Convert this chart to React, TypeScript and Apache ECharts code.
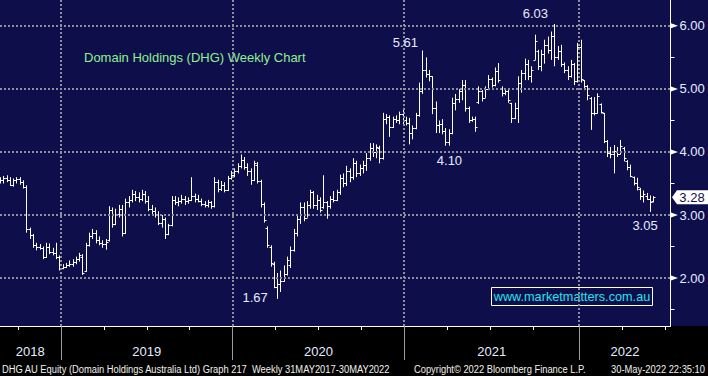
import React, { useEffect, useRef } from 'react';
import * as echarts from 'echarts';

// Weekly bars, Aug-2018 .. end May-2022: [open, high, low, close]
const weeklyBars: number[][] = [
  [3.55, 3.60, 3.50, 3.56], [3.56, 3.62, 3.50, 3.58], [3.58, 3.63, 3.52, 3.56], [3.56, 3.60, 3.46, 3.48],
  [3.48, 3.58, 3.45, 3.55], [3.55, 3.60, 3.50, 3.57], [3.57, 3.60, 3.48, 3.52], [3.52, 3.55, 3.42, 3.45],
  [3.45, 3.47, 2.72, 2.78], [2.78, 2.80, 2.62, 2.68], [2.68, 2.70, 2.48, 2.52], [2.52, 2.56, 2.44, 2.50],
  [2.50, 2.54, 2.45, 2.48], [2.48, 2.50, 2.30, 2.33], [2.33, 2.56, 2.32, 2.50], [2.50, 2.55, 2.38, 2.42],
  [2.42, 2.48, 2.36, 2.40], [2.40, 2.56, 2.30, 2.34], [2.34, 2.36, 2.12, 2.16], [2.16, 2.22, 2.14, 2.18],
  [2.18, 2.24, 2.16, 2.20], [2.20, 2.28, 2.18, 2.22], [2.22, 2.30, 2.18, 2.26], [2.26, 2.34, 2.22, 2.30],
  [2.30, 2.40, 2.26, 2.36], [2.34, 2.38, 2.05, 2.08], [2.12, 2.56, 2.10, 2.52], [2.52, 2.72, 2.50, 2.66],
  [2.66, 2.78, 2.62, 2.72], [2.72, 2.76, 2.55, 2.60], [2.60, 2.66, 2.52, 2.56], [2.56, 2.60, 2.48, 2.54],
  [2.54, 2.62, 2.45, 2.58], [2.60, 3.14, 2.58, 3.08], [3.08, 3.12, 2.80, 2.86], [2.86, 3.10, 2.84, 3.02],
  [3.02, 3.16, 2.96, 3.10], [3.10, 3.16, 2.66, 2.72], [2.72, 3.26, 2.70, 3.20], [3.20, 3.30, 3.12, 3.24],
  [3.24, 3.40, 3.20, 3.34], [3.34, 3.38, 3.22, 3.28], [3.28, 3.36, 3.20, 3.26], [3.26, 3.40, 3.22, 3.34],
  [3.34, 3.38, 3.18, 3.22], [3.22, 3.30, 3.06, 3.10], [3.10, 3.16, 3.00, 3.06], [3.06, 3.12, 2.96, 3.02],
  [3.02, 3.06, 2.84, 2.88], [2.88, 3.00, 2.80, 2.94], [2.94, 2.96, 2.62, 2.70], [2.70, 2.86, 2.68, 2.84],
  [2.84, 3.30, 2.82, 3.24], [3.24, 3.30, 3.16, 3.20], [3.20, 3.28, 3.14, 3.22], [3.22, 3.32, 3.18, 3.26],
  [3.26, 3.30, 3.16, 3.22], [3.22, 3.28, 3.18, 3.24], [3.24, 3.60, 3.22, 3.30], [3.30, 3.34, 3.20, 3.26],
  [3.26, 3.32, 3.20, 3.22], [3.22, 3.26, 3.14, 3.18], [3.18, 3.22, 3.12, 3.16], [3.16, 3.24, 3.12, 3.20],
  [3.20, 3.22, 3.10, 3.14], [3.14, 3.60, 3.12, 3.52], [3.52, 3.56, 3.36, 3.42], [3.42, 3.54, 3.38, 3.48],
  [3.48, 3.52, 3.36, 3.40], [3.40, 3.62, 3.38, 3.58], [3.58, 3.70, 3.56, 3.64], [3.64, 3.74, 3.60, 3.70],
  [3.70, 3.82, 3.66, 3.78], [3.78, 3.96, 3.74, 3.88], [3.88, 3.92, 3.72, 3.76], [3.76, 3.82, 3.62, 3.70],
  [3.70, 3.74, 3.48, 3.56], [3.56, 3.86, 3.54, 3.82], [3.80, 3.84, 3.50, 3.54], [3.54, 3.56, 3.12, 3.18],
  [3.18, 3.20, 2.88, 2.92], [2.80, 2.82, 2.48, 2.52], [2.50, 2.52, 2.18, 2.24], [2.22, 2.26, 1.84, 1.86],
  [1.86, 2.08, 1.67, 1.90], [1.90, 2.12, 1.78, 1.96], [1.96, 2.20, 1.94, 2.06], [2.06, 2.34, 2.04, 2.28],
  [2.20, 2.50, 2.16, 2.44], [2.44, 2.78, 2.42, 2.72], [2.72, 3.00, 2.66, 2.94], [2.94, 3.20, 2.86, 3.12],
  [3.12, 3.20, 2.90, 2.96], [2.96, 3.22, 2.96, 3.16], [3.16, 3.40, 3.10, 3.36], [3.36, 3.38, 3.10, 3.16],
  [3.16, 3.32, 3.08, 3.24], [3.24, 3.28, 3.04, 3.08], [3.12, 3.63, 3.10, 3.20], [3.20, 3.22, 2.94, 3.14],
  [3.14, 3.30, 3.10, 3.26], [3.26, 3.38, 3.20, 3.24], [3.24, 3.40, 3.22, 3.36], [3.36, 3.64, 3.32, 3.58],
  [3.58, 3.66, 3.44, 3.50], [3.50, 3.78, 3.46, 3.70], [3.70, 3.74, 3.52, 3.60], [3.60, 3.90, 3.56, 3.82],
  [3.82, 3.86, 3.60, 3.66], [3.66, 3.80, 3.62, 3.74], [3.74, 3.86, 3.66, 3.80], [3.80, 3.98, 3.70, 3.90],
  [3.90, 4.14, 3.86, 4.06], [4.06, 4.14, 3.92, 4.00], [4.00, 4.12, 3.90, 4.08], [4.06, 4.10, 3.82, 3.90],
  [3.90, 4.62, 3.88, 4.52], [4.52, 4.60, 4.44, 4.56], [4.56, 4.58, 4.24, 4.40], [4.40, 4.56, 4.38, 4.52],
  [4.52, 4.58, 4.46, 4.50], [4.50, 4.64, 4.44, 4.60], [4.60, 4.70, 4.44, 4.50], [4.50, 4.56, 4.42, 4.46],
  [4.46, 4.54, 4.12, 4.30], [4.30, 4.42, 4.20, 4.38], [4.38, 4.62, 4.36, 4.58], [4.58, 5.10, 4.56, 4.96],
  [4.96, 5.61, 4.92, 5.30], [5.30, 5.50, 5.18, 5.24], [5.24, 5.30, 5.12, 5.20], [5.20, 5.20, 4.60, 4.70],
  [4.70, 4.80, 4.30, 4.42], [4.42, 4.50, 4.30, 4.44], [4.44, 4.52, 4.28, 4.34], [4.34, 4.38, 4.10, 4.16],
  [4.16, 4.36, 4.10, 4.30], [4.30, 4.86, 4.28, 4.78], [4.78, 4.92, 4.66, 4.84], [4.84, 5.00, 4.78, 4.96],
  [4.96, 5.14, 4.82, 5.06], [5.06, 5.14, 4.64, 4.70], [4.70, 4.72, 4.46, 4.50], [4.50, 4.56, 4.48, 4.52],
  [4.52, 4.56, 4.32, 4.40], [4.80, 5.04, 4.76, 4.96], [4.96, 4.98, 4.80, 4.86], [4.86, 5.04, 4.86, 5.00],
  [5.00, 5.22, 4.98, 5.16], [5.16, 5.18, 5.02, 5.06], [5.06, 5.34, 5.04, 5.28], [5.28, 5.41, 5.10, 5.14],
  [5.02, 5.04, 4.88, 4.94], [4.94, 5.00, 4.90, 4.96], [4.96, 5.00, 4.78, 4.82], [4.78, 4.78, 4.46, 4.54],
  [4.54, 4.78, 4.52, 4.70], [4.70, 5.20, 4.46, 5.10], [5.10, 5.30, 4.94, 5.26], [5.26, 5.48, 5.14, 5.40],
  [5.40, 5.46, 5.14, 5.20], [5.20, 5.36, 5.10, 5.30], [5.46, 5.86, 5.46, 5.76], [5.60, 5.62, 5.30, 5.36],
  [5.36, 5.62, 5.28, 5.56], [5.56, 5.78, 5.40, 5.70], [5.70, 5.83, 5.56, 5.62], [5.62, 5.91, 5.46, 5.84],
  [5.84, 6.03, 5.36, 5.50], [5.50, 5.68, 5.46, 5.60], [5.60, 5.70, 5.35, 5.40], [5.40, 5.42, 5.25, 5.30],
  [5.30, 5.36, 5.14, 5.20], [5.20, 5.46, 5.18, 5.40], [5.40, 5.41, 5.06, 5.12], [5.12, 5.73, 5.10, 5.66],
  [5.66, 5.78, 5.10, 5.16], [5.14, 5.14, 4.98, 5.04], [5.04, 5.06, 4.82, 4.90], [4.86, 4.87, 4.35, 4.62],
  [4.62, 4.87, 4.58, 4.62], [4.62, 4.93, 4.61, 4.88], [4.76, 4.77, 4.61, 4.64], [4.62, 4.62, 4.14, 4.18],
  [4.18, 4.19, 3.92, 3.98], [3.98, 4.08, 3.90, 3.96], [3.96, 4.11, 3.66, 4.02], [4.02, 4.08, 3.92, 3.96],
  [3.96, 4.19, 3.96, 4.10], [4.06, 4.08, 3.85, 3.90], [3.86, 3.87, 3.71, 3.76], [3.76, 3.80, 3.60, 3.62],
  [3.60, 3.61, 3.47, 3.50], [3.50, 3.59, 3.39, 3.44], [3.42, 3.43, 3.24, 3.30], [3.30, 3.39, 3.20, 3.34],
  [3.30, 3.35, 3.24, 3.26], [3.26, 3.31, 3.05, 3.20], [3.22, 3.30, 3.20, 3.28],
];

// x positions are bar indices (one bar per week)
const yearBoundaries = [18.5, 70.5, 122.5, 175.5];
const quarterTicks = [5.5, 31.5, 44.5, 57.5, 83.5, 96.5, 109.5, 135.5, 148.5, 161.5, 188.5, 201.5];
const yearLabels = ['2018', '2019', '2020', '2021', '2022'];
const yearLabelPos = [9.2, 44.5, 96.5, 149, 189.4];
const priceLabels = [2, 3, 4, 5, 6];
const priceMinorTicks = [1.5, 2.5, 3.5, 4.5, 5.5];
const annotationTexts = ['5.61', '6.03', '4.10', '1.67', '3.05'];
const annotationBars = [128, 168, 135, 84, 197];
const annotationValues = [5.61, 6.03, 4.1, 1.67, 3.05];
const annotationOffsets = [[-17, -8], [-19, -10], [4, 15], [-22, -1], [-5, 14]];
const lastPrice = 3.28;

const X_MIN = 0.015;
const X_MAX = 203.2;
const Y_MIN = 1.24;
const Y_MAX = 6.41;

const NAVY = '#0e0e4b';
const GRID_COLOR = '#8e8e9c';
const LABEL_COLOR = '#e6ecff';
const FOOTER_COLOR = '#f3f1e8';
const FONT = "'Liberation Sans', Arial, sans-serif";

export default function App() {
  const ref = useRef<HTMLDivElement>(null);

  useEffect(() => {
    if (!ref.current) return;
    const chart = echarts.init(ref.current, undefined, { renderer: 'svg' });

    const ohlcData = weeklyBars.map((b, i) => [i, b[0], b[1], b[2], b[3]]);

    const renderItem = (params: any, api: any) => {
      const x = api.value(0);
      const pH = api.coord([x, api.value(2)]);
      const pL = api.coord([x, api.value(3)]);
      const pO = api.coord([x, api.value(1)]);
      const pC = api.coord([x, api.value(4)]);
      const cx = Math.round(pH[0]) + 0.5;
      const oy = Math.round(pO[1]) + 0.5;
      const cy = Math.round(pC[1]) + 0.5;
      const st = { stroke: '#ffffff', lineWidth: 1 };
      return {
        type: 'group',
        children: [
          { type: 'line', shape: { x1: cx, y1: pH[1], x2: cx, y2: pL[1] }, style: st },
          { type: 'line', shape: { x1: cx - 2, y1: oy, x2: cx, y2: oy }, style: st },
          { type: 'line', shape: { x1: cx, y1: cy, x2: cx + 2, y2: cy }, style: st },
        ],
      };
    };

    const gridLineData: any[] = [
      ...priceLabels.map((v) => ({ yAxis: v })),
      ...yearBoundaries.map((v) => ({ xAxis: v })),
    ];

    const markPoints: any[] = [
      ...priceLabels.map((v) => ({
        coord: [X_MAX, v],
        symbol: 'triangle',
        symbolSize: [5, 7],
        symbolRotate: -90,
        symbolOffset: [4, 0],
        itemStyle: { color: '#ffffff' },
        label: { show: false },
      })),
      {
        coord: [X_MAX, lastPrice],
        symbol: 'path://M0,7L5,0L36,0L36,14L5,14Z',
        symbolSize: [36, 14],
        symbolKeepAspect: false,
        symbolOffset: [19.5, 0],
        itemStyle: { color: '#ffffff' },
        label: {
          show: true,
          position: 'inside',
          formatter: lastPrice.toFixed(2),
          color: NAVY,
          fontSize: 13,
          fontFamily: FONT,
          offset: [2, 0],
        },
      },
      ...annotationTexts.map((t, i) => ({
        coord: [annotationBars[i], annotationValues[i]],
        symbol: 'circle',
        symbolSize: 1,
        itemStyle: { color: 'rgba(0,0,0,0)' },
        label: {
          show: true,
          position: 'inside',
          formatter: t,
          color: LABEL_COLOR,
          fontSize: 13,
          fontFamily: FONT,
          offset: annotationOffsets[i],
        },
      })),
    ];

    const footer = (text: string, x: number, align: string) => ({
      type: 'text',
      x,
      y: 369,
      scaleX: 0.85,
      style: {
        text,
        fill: FOOTER_COLOR,
        font: `11px ${FONT}`,
        align,
        verticalAlign: 'middle',
      },
      silent: true,
    });

    const option: any = {
      animation: false,
      backgroundColor: 'transparent',
      grid: {
        left: 0,
        top: 0,
        right: 37.5,
        bottom: 50,
        containLabel: false,
        outerBoundsMode: 'none',
      },
      xAxis: [
        {
          type: 'value',
          min: X_MIN,
          max: X_MAX,
          position: 'bottom',
          axisLine: { show: true, onZero: false, lineStyle: { color: '#ffffff', width: 1 } },
          axisTick: {
            show: true,
            customValues: quarterTicks,
            length: 4,
            lineStyle: { color: '#ffffff', width: 1 },
          },
          axisLabel: {
            show: true,
            customValues: yearLabelPos,
            margin: 19,
            color: LABEL_COLOR,
            fontSize: 13,
            fontFamily: FONT,
            formatter: (v: number) => {
              const k = yearLabelPos.findIndex((p) => Math.abs(p - v) < 0.01);
              return k >= 0 ? yearLabels[k] : '';
            },
          },
          splitLine: { show: false },
        },
        {
          type: 'value',
          min: X_MIN,
          max: X_MAX,
          position: 'bottom',
          axisLine: { show: false, onZero: false },
          axisTick: {
            show: true,
            customValues: yearBoundaries,
            length: 34,
            lineStyle: { color: '#9c9c9c', width: 1 },
          },
          axisLabel: { show: false },
          splitLine: { show: false },
        },
      ],
      yAxis: {
        type: 'value',
        position: 'right',
        min: Y_MIN,
        max: Y_MAX,
        axisLine: { show: true, lineStyle: { color: '#ffffff', width: 1 } },
        axisTick: {
          show: true,
          customValues: priceMinorTicks,
          length: 4,
          lineStyle: { color: '#ffffff', width: 1 },
        },
        axisLabel: {
          show: true,
          customValues: priceLabels,
          margin: 9,
          color: LABEL_COLOR,
          fontSize: 13,
          fontFamily: FONT,
          formatter: (v: number) => v.toFixed(2),
        },
        splitLine: { show: false },
      },
      series: [
        {
          type: 'line',
          z: 1,
          data: [[X_MIN, Y_MIN]],
          symbol: 'none',
          lineStyle: { opacity: 0 },
          silent: true,
          markLine: {
            silent: true,
            symbol: ['none', 'none'],
            label: { show: false },
            lineStyle: { color: GRID_COLOR, type: [2, 2], width: 2 },
            emphasis: { disabled: true },
            data: gridLineData,
          },
        },
        {
          type: 'custom',
          z: 3,
          renderItem,
          data: ohlcData,
          encode: { x: 0, y: [2, 3] },
          silent: true,
          markPoint: {
            silent: true,
            data: markPoints,
          },
        },
      ],
      graphic: [
        {
          type: 'text',
          left: 84,
          top: 51,
          style: { text: 'Domain Holdings (DHG) Weekly Chart', fill: '#8ff08f', font: `13px ${FONT}` },
          silent: true,
        },
        {
          type: 'rect',
          shape: { x: 491.5, y: 287.5, width: 161, height: 18 },
          style: { fill: 'none', stroke: '#ffffff', lineWidth: 1 },
          silent: true,
        },
        {
          type: 'text',
          x: 572,
          y: 296.5,
          style: {
            text: 'www.marketmatters.com.au',
            fill: '#22e4f0',
            font: `12.7px ${FONT}`,
            align: 'center',
            verticalAlign: 'middle',
          },
          silent: true,
        },
        footer('DHG AU Equity (Domain Holdings Australia Ltd) Graph 217  Weekly 31MAY2017-30MAY2022', 2, 'left'),
        footer('Copyright\u00a9 2022 Bloomberg Finance L.P.', 414, 'left'),
        footer('30-May-2022 22:35:10', 705, 'right'),
      ],
    };

    chart.setOption(option);
    return () => chart.dispose();
  }, []);

  return (
    <div
      ref={ref}
      style={{
        position: 'fixed',
        left: 0,
        top: 0,
        width: 708,
        height: 376,
        background: `linear-gradient(${NAVY} 0px, ${NAVY} 326px, #000000 326px, #000000 376px)`,
      }}
    />
  );
}
